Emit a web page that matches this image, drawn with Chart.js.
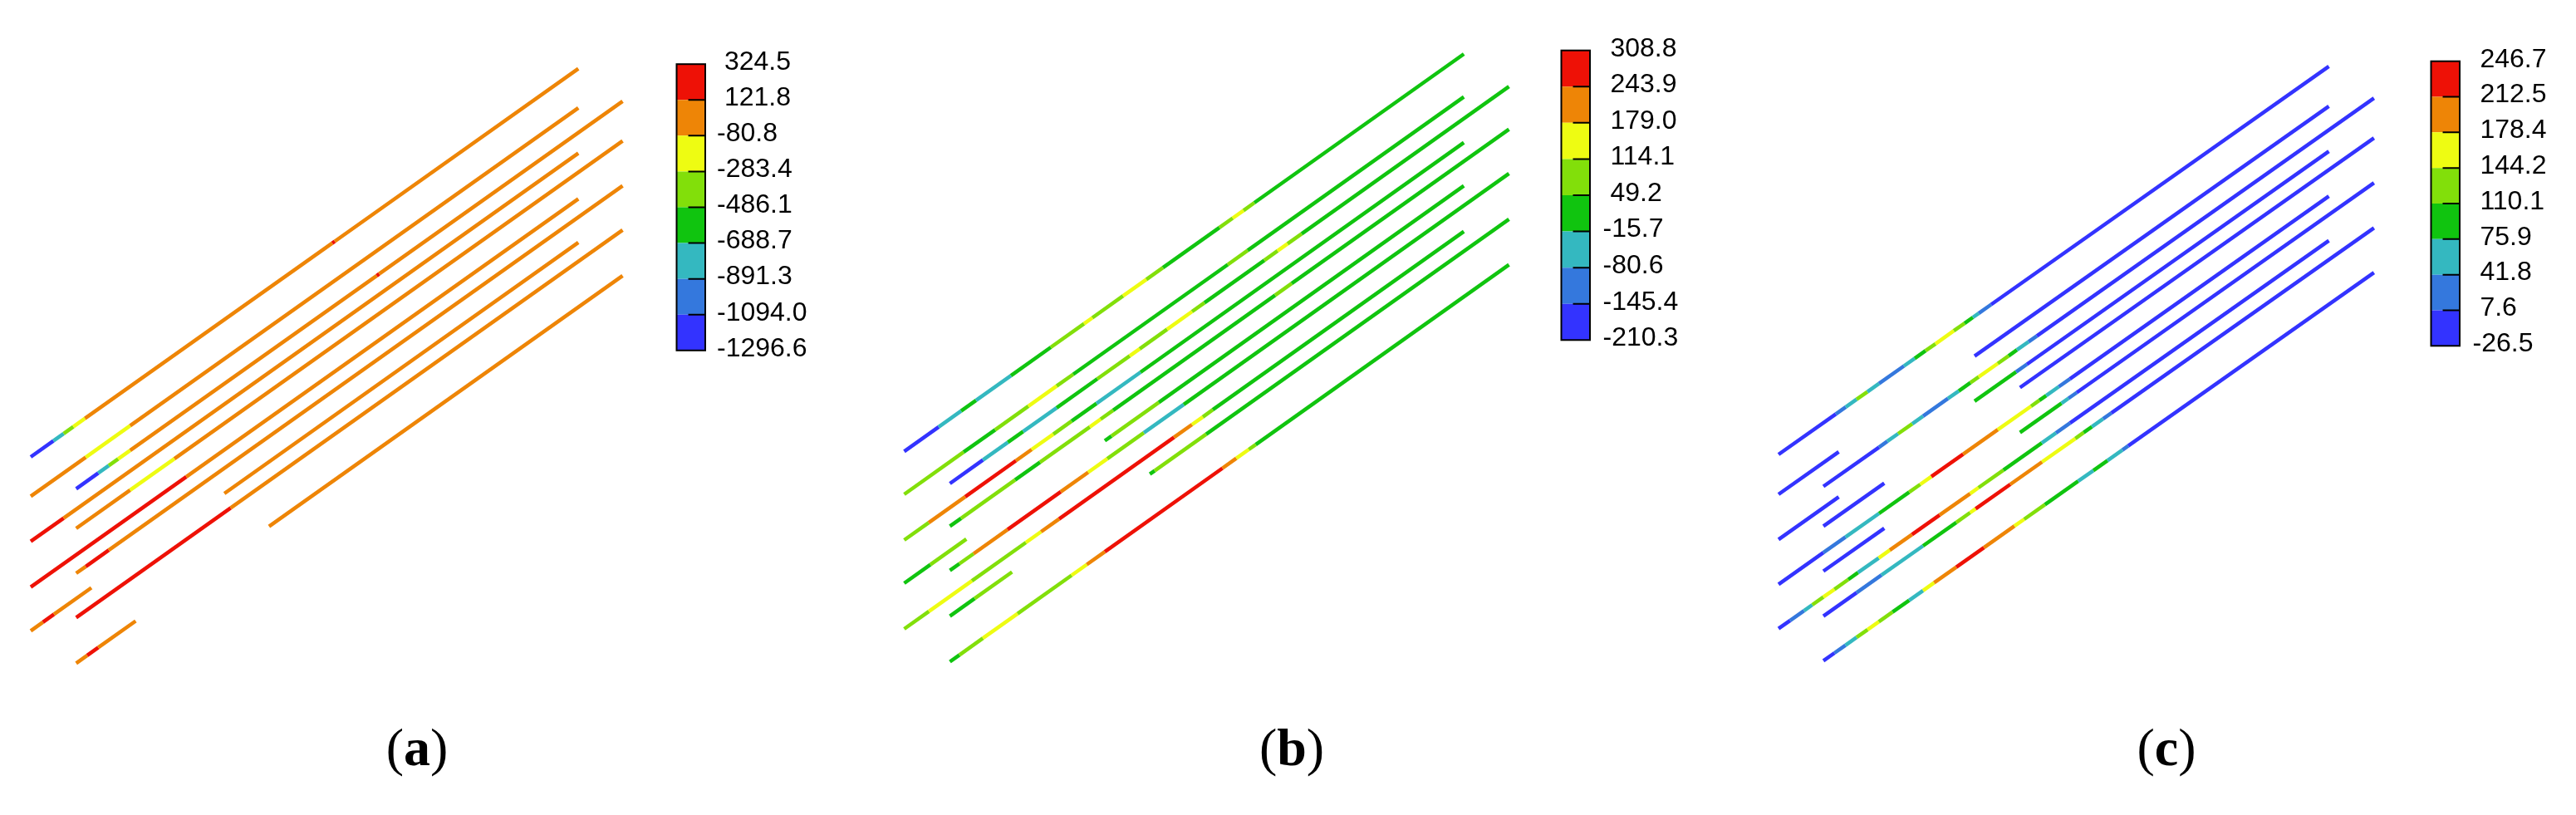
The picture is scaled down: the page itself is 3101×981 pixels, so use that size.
<!DOCTYPE html>
<html>
<head>
<meta charset="utf-8">
<script src="https://cdn.jsdelivr.net/npm/chart.js@4.4.1/dist/chart.umd.min.js"></script>
<style>
  html, body { margin: 0; padding: 0; background: #fff; }
  #wrap { position: relative; width: 3101px; height: 981px; overflow: hidden; }
  canvas { position: absolute; }
  .cap { position: absolute; width: 300px; text-align: center; color: #000;
         font-family: 'Liberation Serif', 'Times New Roman', serif; font-size: 64px; line-height: 64px; }
</style>
</head>
<body>
<div id="wrap">
  <canvas id="pa" width="790" height="981" style="left:0px;top:0px"></canvas>
  <canvas id="pb" width="820" height="981" style="left:1040px;top:0px"></canvas>
  <canvas id="pc" width="800" height="981" style="left:2100px;top:0px"></canvas>
  <canvas id="ca" width="208" height="411" style="left:801px;top:44px"></canvas>
  <canvas id="cb" width="208" height="418" style="left:1866px;top:26px"></canvas>
  <canvas id="cc" width="188" height="412" style="left:2913px;top:39px"></canvas>
  <div class="cap" style="left:352px;top:868px">(<b>a</b>)</div>
  <div class="cap" style="left:1405px;top:868px">(<b>b</b>)</div>
  <div class="cap" style="left:2458px;top:868px">(<b>c</b>)</div>
</div>
<script>
// contour levels, 0 = lowest band (blue) .. 7 = highest band (red)
const PAL = ['#3333FF', '#3478DD', '#34B8C0', '#10C40F', '#82DF0A', '#EEFC12', '#EE8506', '#EE1106'];

// colour bar labels, top to bottom
const labelsA = ['324.5', '121.8', '-80.8', '-283.4', '-486.1', '-688.7', '-891.3', '-1094.0', '-1296.6'];
const labelsB = ['308.8', '243.9', '179.0', '114.1', '49.2', '-15.7', '-80.6', '-145.4', '-210.3'];
const labelsC = ['246.7', '212.5', '178.4', '144.2', '110.1', '75.9', '41.8', '7.6', '-26.5'];

// bars: break points along each bar [x, y] and the level of each piece between them
const barsA = [
  {pts: [[37,550],[64.3,530.6],[76.7,521.9],[88.3,513.6],[102.3,503.7],[400,292.6],[403,290.5],[696.2,82.6]], lv: [0,2,4,5,6,7,6]},
  {pts: [[37,597.3],[103.3,550.3],[156.7,512.4],[696.2,129.9]], lv: [6,5,6]},
  {pts: [[37,651.7],[76.7,623.6],[696.2,184.3]], lv: [7,6]},
  {pts: [[37,706.7],[224.3,573.9],[696.2,239.3]], lv: [7,6]},
  {pts: [[37,759.3],[51.7,748.9],[65,739.4],[110,707.5]], lv: [6,7,6]},
  {pts: [[270.1,594.0],[696.2,291.9]], lv: [6]},
  {pts: [[91.7,588.3],[118.3,569.4],[131,560.4],[142.3,552.4],[156.7,542.2],[453.5,331.8],[456.5,329.7],[749.5,121.9]], lv: [0,2,4,5,6,7,6]},
  {pts: [[91.7,636],[156.7,589.9],[210,552.1],[749.5,169.6]], lv: [6,5,6]},
  {pts: [[91.7,690],[103.3,681.8],[131,662.1],[749.5,223.6]], lv: [6,7,6]},
  {pts: [[91.7,743.3],[277.7,611.4],[749.5,276.9]], lv: [7,6]},
  {pts: [[91.7,798.3],[105,788.9],[118.3,779.4],[163.3,747.5]], lv: [6,7,6]},
  {pts: [[323.9,633.7],[749.5,331.9]], lv: [6]}
];

const barsB = [
  {pts: [[1088.5,543.3],[1130,513.8],[1157,494.7],[1175,481.9],[1217,452.1],[1265,418.0],[1305,389.6],[1315,382.5],[1352,356.2],[1380,336.3],[1400,322.1],[1468,273.9],[1484,262.5],[1497,253.3],[1510,244.0],[1762.2,65.0]], lv: [0,2,3,2,3,4,5,4,5,4,3,4,5,4,3]},
  {pts: [[1088.5,595],[1160,544.2],[1198,517.3],[1238,488.9],[1272,464.7],[1292,450.5],[1478,318.5],[1502,301.4],[1762.2,116.7]], lv: [4,3,4,5,4,3,4,3]},
  {pts: [[1143.5,582],[1183.3,553.7],[1213.3,532.4],[1231.7,519.4],[1272,490.8],[1321,456.0],[1360,428.3],[1372,419.8],[1405,396.3],[1435,375.0],[1450,364.4],[1522,313.3],[1538,301.9],[1550,293.4],[1567,281.3],[1816.5,104.2]], lv: [0,2,3,2,3,4,5,4,5,4,3,4,5,4,3]},
  {pts: [[1088.5,650],[1118,629.1],[1162,597.8],[1223,554.5],[1242,541.0],[1268,522.6],[1290,506.9],[1320,485.6],[1373,448.0],[1762.2,171.7]], lv: [4,6,7,6,5,4,3,2,3]},
  {pts: [[1143.5,633.4],[1157,623.8],[1222,577.7],[1252,556.4],[1312,513.8],[1325,504.5],[1340,493.9],[1535,355.4],[1555,341.2],[1816.5,155.6]], lv: [3,4,3,4,5,4,3,4,3]},
  {pts: [[1088.5,702],[1120,679.6],[1163.3,648.9]], lv: [3,4]},
  {pts: [[1330,530.5],[1338,524.9],[1395,484.4],[1762.2,223.7]], lv: [3,4,3]},
  {pts: [[1143.5,686.7],[1155,678.5],[1172,666.5],[1213,637.4],[1277,591.9],[1310,568.5],[1333,552.2],[1377,520.9],[1425,486.8],[1816.5,208.9]], lv: [3,4,6,7,6,5,4,2,3]},
  {pts: [[1143.5,741.6],[1173.3,720.4],[1218.3,688.5]], lv: [3,4]},
  {pts: [[1384.2,570.7],[1390,566.6],[1452,522.6],[1816.5,263.8]], lv: [3,4,3]},
  {pts: [[1088.5,757],[1118.3,735.8],[1170,699.1],[1235,653.0],[1253.3,640.0],[1275,624.6],[1413.3,526.4],[1435,511.0],[1448,501.8],[1460,493.2],[1762.2,278.7]], lv: [4,5,4,5,6,7,6,5,4,3]},
  {pts: [[1143.5,796.5],[1155,788.3],[1183.3,768.2],[1225,738.6],[1290,692.5],[1308.3,679.5],[1330,664.1],[1471.7,563.5],[1488.3,551.7],[1503.3,541.0],[1511.7,535.1],[1816.5,318.7]], lv: [3,4,5,4,5,6,7,6,5,4,3]}
];

const barsC = [
  {pts: [[2141,547],[2210,498.4],[2222,489.9],[2235,480.7],[2248,471.6],[2262,461.7],[2292,440.5],[2305,431.4],[2318,422.2],[2330,413.8],[2352,398.2],[2365,389.1],[2375,382.0],[2382,377.1],[2397,366.5],[2803.5,79.9]], lv: [0,1,2,4,2,1,2,3,4,5,4,3,2,1,0]},
  {pts: [[2141,595],[2213.5,543.9]], lv: [0]},
  {pts: [[2377,428.6],[2803.5,127.9]], lv: [0]},
  {pts: [[2141,649.3],[2213.5,598.2]], lv: [0]},
  {pts: [[2377,482.9],[2427,447.7],[2440,438.5],[2803.5,182.2]], lv: [3,1,0]},
  {pts: [[2141,703.3],[2195,665.2],[2221.7,646.4],[2262,618.0],[2298.3,592.4],[2311.7,583.0],[2325,573.6],[2363.3,546.6],[2405,517.2],[2445,489.0],[2455,481.9],[2463.3,476.1],[2478.3,465.5],[2491.7,456.1],[2803.5,236.2]], lv: [0,1,2,3,4,5,7,6,5,4,3,2,1,0]},
  {pts: [[2141,756.7],[2155,746.8],[2171.7,735.1],[2181.7,728.0],[2195,718.6],[2208.3,709.3],[2225,697.5],[2236.7,689.2],[2261.7,671.6],[2275,662.2],[2301.7,643.4],[2335,619.9],[2371.7,594.1],[2381.7,587.0],[2411.7,565.9],[2458,533.2],[2475,521.2],[2492,509.2],[2803.5,289.6]], lv: [0,1,2,4,5,4,3,2,5,6,7,6,5,4,3,2,1,0]},
  {pts: [[2195,585.5],[2262,538.3],[2272,531.2],[2285,522.0],[2302,510.1],[2315,500.9],[2345,479.7],[2358,470.6],[2372,460.7],[2382,453.7],[2405,437.5],[2418,428.3],[2428,421.2],[2442,411.4],[2452,404.3],[2857.8,118.2]], lv: [0,1,2,4,2,1,2,3,4,5,4,3,2,1,0]},
  {pts: [[2195,633.4],[2268.3,581.7]], lv: [0]},
  {pts: [[2431.7,466.5],[2857.8,166.1]], lv: [0]},
  {pts: [[2195,687.5],[2268.3,635.8]], lv: [0]},
  {pts: [[2431.7,520.6],[2481.7,485.4],[2490,479.5],[2500,472.5],[2857.8,220.2]], lv: [3,2,1,0]},
  {pts: [[2195,741.6],[2235,713.4],[2265,692.2],[2315,657.0],[2355,628.8],[2371.7,617.0],[2378.3,612.4],[2420,583.0],[2458.3,556.0],[2498.3,527.8],[2508.3,520.7],[2518.3,513.7],[2531.7,504.2],[2541.7,497.2],[2857.8,274.3]], lv: [0,1,2,3,4,5,7,6,5,4,3,2,1,0]},
  {pts: [[2195,795.4],[2208.3,786.0],[2221.7,776.6],[2235,767.2],[2248.3,757.8],[2261.7,748.4],[2278.3,736.7],[2298.3,722.6],[2315,710.8],[2328.3,701.4],[2355,682.6],[2388.3,659.1],[2425,633.2],[2436.7,625.0],[2461.7,607.4],[2501.7,579.2],[2520,566.3],[2537,554.3],[2555,541.6],[2562,536.7],[2857.8,328.1]], lv: [0,1,2,4,5,4,3,2,5,6,7,6,5,4,3,2,3,2,1,0]}
];

const base = {
  responsive: false, animation: false, devicePixelRatio: 1, events: [],
  plugins: { legend: { display: false }, tooltip: { enabled: false } }
};

function panel(id, bars, xmin, xmax) {
  new Chart(document.getElementById(id), {
    type: 'scatter',
    data: {
      datasets: bars.map(b => ({
        data: b.pts.map(p => ({ x: p[0], y: p[1] })),
        showLine: true, borderWidth: 4.5, pointRadius: 0,
        borderCapStyle: 'butt', borderColor: PAL[b.lv[0]],
        segment: { borderColor: c => PAL[b.lv[c.p0DataIndex]] }
      }))
    },
    options: Object.assign({}, base, {
      layout: { padding: 0 },
      scales: {
        x: { type: 'linear', display: false, min: xmin, max: xmax },
        y: { type: 'linear', display: false, min: 0, max: 981, reverse: true }
      }
    })
  });
}

const frame = {
  id: 'frame',
  afterDatasetsDraw(chart) {
    const a = chart.chartArea, c = chart.ctx;
    c.save();
    c.strokeStyle = '#000';
    c.lineWidth = 2;
    c.strokeRect(a.left, a.top, a.right - a.left, a.bottom - a.top);
    c.restore();
  }
};

function colorbar(id, labels, axisW, pad) {
  const bands = PAL.map((col, i) => ({
    type: 'line', data: [{ x: 0, y: i + 1 }, { x: 1, y: i + 1 }],
    borderWidth: 0, borderColor: 'rgba(0,0,0,0)', pointRadius: 0,
    backgroundColor: col, fill: { value: i }
  }));
  const marks = {
    type: 'scatter', order: -1,
    data: [1, 2, 3, 4, 5, 6, 7].map(v => ({ x: 0.74, y: v })),
    pointStyle: 'line', pointRadius: 11.5, borderColor: '#000', borderWidth: 2
  };
  new Chart(document.getElementById(id), {
    type: 'scatter',
    data: { datasets: [marks].concat(bands) },
    plugins: [frame],
    options: Object.assign({}, base, {
      layout: { padding: { left: 4, top: 30, bottom: 30, right: 0 } },
      scales: {
        x: { type: 'linear', display: false, min: 0, max: 1 },
        y: {
          type: 'linear', position: 'right', min: 0, max: 8,
          afterFit: s => { s.width = axisW; },
          grid: { display: false, drawTicks: false },
          border: { display: false },
          ticks: {
            stepSize: 1, autoSkip: false, padding: pad, labelOffset: -2, color: '#000',
            font: { family: "'Liberation Sans', Arial, sans-serif", size: 32 },
            callback: v => { const t = labels[8 - v]; return t.startsWith('-') ? t : ' ' + t; }
          }
        }
      }
    })
  });
}

panel('pa', barsA, 0, 790);
panel('pb', barsB, 1040, 1860);
panel('pc', barsC, 2100, 2900);
colorbar('ca', labelsA, 160, 14);
colorbar('cb', labelsB, 160, 15.5);
colorbar('cc', labelsC, 140, 15.5);
</script>
</body>
</html>
